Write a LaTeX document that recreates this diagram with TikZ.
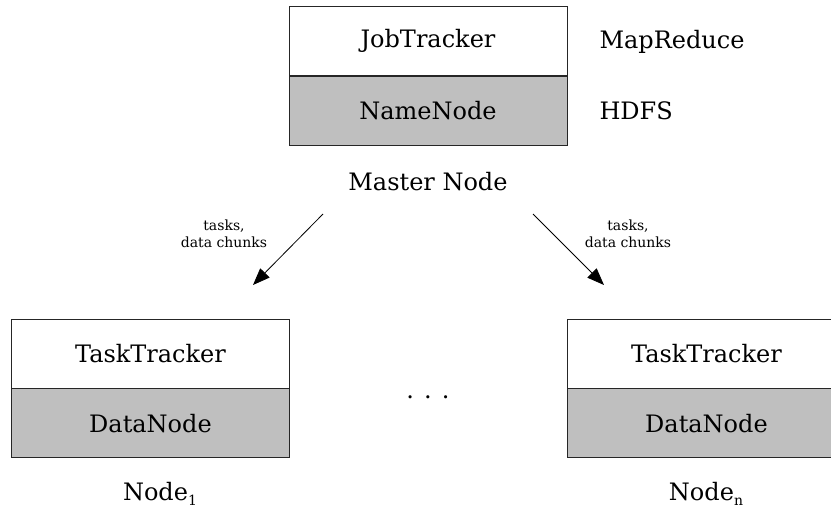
\documentclass[tikz,border=0pt]{standalone}
\usepackage{fontspec}
\setmainfont{DejaVu Serif}
\usepackage{tikz}
\usetikzlibrary{positioning, arrows.meta}
\definecolor{boxgray}{RGB}{191,191,191}
\newcommand{\lowsub}[1]{\raisebox{-5pt}{\fontsize{14}{14}\selectfont #1}}

\begin{document}
\begin{tikzpicture}[x=1pt, y=-1pt, >={Triangle[length=17pt, width=13pt]}, font=\fontsize{24}{28}\selectfont,
    part/.style={draw=black!85, line width=0.8pt, minimum width=278pt, minimum height=69pt, inner sep=0pt},
    upper/.style={part, fill=white},
    lower/.style={part, fill=boxgray},
    edgelabel/.style={font=\fontsize{14}{17}\selectfont, align=center}]
    \useasboundingbox (0,0) rectangle (831,508);

    % master node
    \node[upper] (jt) at (428,41) {JobTracker};
    \node[lower] (nn) [below=0pt of jt] {NameNode};
    \node[anchor=west] (mr) at (596,42) {MapReduce};
    \node[anchor=west] (hdfs) at (596,111) {HDFS};
    \node (master) at (428,182) {Master Node};

    % slave nodes
    \node[upper] (tt1) at (150.5,353.5) {TaskTracker};
    \node[lower] (dn1) [below=0pt of tt1] {DataNode};
    \node (node1) at (160,494) {Node\lowsub{1}};
    \node[upper] (ttn) at (706.5,353.5) {TaskTracker};
    \node[lower] (dnn) [below=0pt of ttn] {DataNode};
    \node (noden) at (706,494) {Node\lowsub{n}};
    \node (dots) at (428,397) {. . .};

    \coordinate (a1) at (323,214);
    \coordinate (b1) at (253,285);
    \coordinate (an) at (533,214);
    \coordinate (bn) at (604,285);

    \draw[->, line width=0.8pt] (a1) -- (b1);
    \draw[->, line width=0.8pt] (an) -- (bn);
    \node[edgelabel] (lab1) at (224,234) {tasks,\\data chunks};
    \node[edgelabel] (labn) at (628,234) {tasks,\\data chunks};
\end{tikzpicture}
\end{document}
